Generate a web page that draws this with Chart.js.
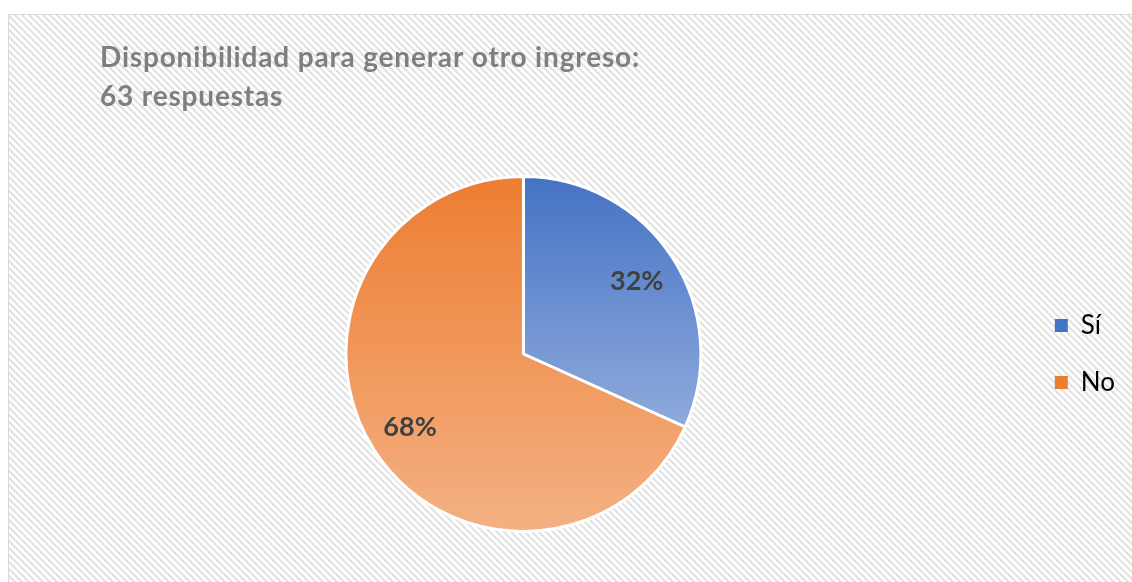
<!DOCTYPE html>
<html>
<head>
<meta charset="utf-8">
<script src="https://cdn.jsdelivr.net/npm/chart.js@4"></script>
<style>
  html, body { margin: 0; padding: 0; background: #fff; }
  #wrap { width: 1132px; height: 582px; }
</style>
</head>
<body>
<div id="wrap"><canvas id="chart" width="1132" height="582"></canvas></div>
<script>
const TITLE_LINES = ["Disponibilidad para generar otro ingreso:", "63 respuestas"];
const LABELS = ["Sí", "No"];
const COUNTS = [20, 43];
const TOTAL = 63;

const GRADIENTS = [
  ["#4472C4", "#8FAADC", 0.7],
  ["#ED7D31", "#F4B183", 1.0],
];

const FONT = "Lato, Carlito, Calibri, sans-serif";

function makeHatch() {
  const c = document.createElement("canvas");
  c.width = 7;
  c.height = 7;
  const g = c.getContext("2d");
  g.fillStyle = "#ffffff";
  g.fillRect(0, 0, 7, 7);
  g.strokeStyle = "#e2e2e2";
  g.lineWidth = 2.2;
  for (const off of [-7, 0, 7]) {
    g.beginPath();
    g.moveTo(off - 1, -1);
    g.lineTo(off + 8, 8);
    g.stroke();
  }
  return c;
}

const background = {
  id: "background",
  beforeDraw(chart) {
    const { ctx, width, height } = chart;
    ctx.save();
    ctx.fillStyle = "#ffffff";
    ctx.fillRect(0, 0, width, height);
    ctx.fillStyle = ctx.createPattern(makeHatch(), "repeat");
    ctx.fillRect(9, 15, width, height);
    ctx.strokeStyle = "#d9d9d9";
    ctx.lineWidth = 1;
    ctx.strokeRect(8.5, 14.5, width + 10, height + 10);
    ctx.restore();
  },
};

// title is drawn by hand so it can sit at x=100 while the pie stays centred
const titleText = {
  id: "titleText",
  afterDraw(chart) {
    const { ctx } = chart;
    ctx.save();
    ctx.font = "bold 28px " + FONT;
    const w = ctx.measureText(TITLE_LINES[0]).width;
    ctx.letterSpacing = Math.max(0, (540 - w) / TITLE_LINES[0].length) + "px";
    ctx.fillStyle = "#7f7f7f";
    ctx.textBaseline = "middle";
    ctx.fillText(TITLE_LINES[0], 100, 58);
    ctx.fillText(TITLE_LINES[1], 100, 97);
    ctx.restore();
  },
};

const pctLabels = {
  id: "pctLabels",
  afterDatasetsDraw(chart) {
    const { ctx } = chart;
    const meta = chart.getDatasetMeta(0);
    ctx.save();
    ctx.font = "bold 27px " + FONT;
    ctx.fillStyle = "#404040";
    ctx.textAlign = "center";
    ctx.textBaseline = "middle";
    meta.data.forEach((arc, i) => {
      const mid = (arc.startAngle + arc.endAngle) / 2;
      const r = arc.outerRadius * 0.76;
      const x = arc.x + Math.cos(mid) * r;
      const y = arc.y + Math.sin(mid) * r;
      ctx.fillText(Math.round((COUNTS[i] / TOTAL) * 100) + "%", x, y);
    });
    ctx.restore();
  },
};

function sliceFill(context) {
  const area = context.chart.chartArea;
  const [top, bottom, stop] = GRADIENTS[context.dataIndex];
  if (!area) return top;
  const g = context.chart.ctx.createLinearGradient(
    0, area.top, 0, area.top + (area.bottom - area.top) * stop
  );
  g.addColorStop(0, top);
  g.addColorStop(1, bottom);
  return g;
}

new Chart(document.getElementById("chart"), {
  type: "pie",
  data: {
    labels: LABELS,
    datasets: [
      {
        data: COUNTS,
        backgroundColor: sliceFill,
        borderColor: "#ffffff",
        borderWidth: 3,
      },
    ],
  },
  options: {
    responsive: false,
    animation: false,
    layout: {
      padding: { top: 175, bottom: 49, left: 23, right: 7 },
    },
    plugins: {
      legend: {
        position: "right",
        labels: {
          boxWidth: 13,
          boxHeight: 13,
          padding: 31,
          color: "#595959",
          font: { family: FONT, size: 26 },
          generateLabels(chart) {
            return LABELS.map((label, i) => ({
              text: label,
              fillStyle: GRADIENTS[i][0],
              strokeStyle: "#ffffff",
              lineWidth: 0,
              index: i,
            }));
          },
        },
      },
      tooltip: { enabled: false },
    },
  },
  plugins: [background, titleText, pctLabels],
});
</script>
</body>
</html>
